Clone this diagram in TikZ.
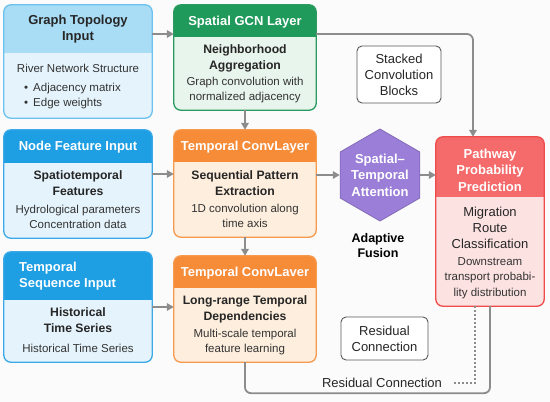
\documentclass[tikz,border=0pt]{standalone}
\usepackage{fontspec}
\setmainfont{Liberation Sans}
\usepackage{tikz}
\usetikzlibrary{arrows.meta,positioning,shapes.geometric,calc}
\definecolor{skyhead}{HTML}{A9DCF5}
\definecolor{skybody}{HTML}{E5F4FC}
\definecolor{skyline}{HTML}{6CC1EE}
\definecolor{bluehead}{HTML}{1E9FE4}
\definecolor{bluebody}{HTML}{E5F4FC}
\definecolor{blueline}{HTML}{3BA9E8}
\definecolor{greenhead}{HTML}{1F9A5B}
\definecolor{greenbody}{HTML}{E8F5EC}
\definecolor{greenline}{HTML}{2A9B60}
\definecolor{orangehead}{HTML}{F68B38}
\definecolor{orangebody}{HTML}{FDEEDD}
\definecolor{orangeline}{HTML}{F79A4E}
\definecolor{redhead}{HTML}{F56A6A}
\definecolor{redbody}{HTML}{FDE2E2}
\definecolor{redline}{HTML}{EE4B4B}
\definecolor{attnviolet}{HTML}{9B7ED7}
\definecolor{linkgray}{HTML}{8C8C8C}
\definecolor{paper}{HTML}{FBFBFB}

\tikzset{
  headtxt/.style={font=\fontsize{13}{16.5}\selectfont\bfseries, align=center, inner sep=0pt},
  subtxt/.style={font=\fontsize{12.2}{16}\selectfont\bfseries, align=center, inner sep=0pt, text=black!85},
  dettxt/.style={font=\fontsize{11.5}{15.5}\selectfont, align=center, inner sep=0pt, text=black!80},
  plaintxt/.style={font=\fontsize{13}{16}\selectfont, align=center, inner sep=0pt, text=black!85},
  notebox/.style={draw=black!65, line width=0.9pt, rounded corners=5pt, fill=white},
  arr/.style={-{Triangle[length=7pt,width=7.5pt]}, line width=1.8pt, draw=linkgray},
  link/.style={line width=1.8pt, draw=linkgray},
}

% panel: name, centre, width, height, band height, colour prefix
\newcommand{\drawpanel}[6]{%
  \node[minimum width=#3, minimum height=#4, inner sep=0pt, fill=#6body, rounded corners=7pt] (#1) at (#2) {};
  \begin{scope}
    \clip[rounded corners=7pt] (#1.south west) rectangle (#1.north east);
    \fill[#6head] (#1.north west) rectangle ([yshift=-#5]#1.north east);
  \end{scope}
  \draw[#6line, line width=1.3pt, rounded corners=7pt] (#1.south west) rectangle (#1.north east);
}

\begin{document}
\begin{tikzpicture}[x=1pt,y=-1pt]
  \fill[paper] (0,0) rectangle (550,402);

  \drawpanel{gti}{78,61.5}{148pt}{113pt}{48pt}{sky}
  \drawpanel{nfi}{78,184}{148pt}{108pt}{33pt}{blue}
  \drawpanel{tsi}{78,307}{148pt}{110pt}{48pt}{blue}
  \drawpanel{gcn}{245,57.5}{142pt}{105pt}{32pt}{green}
  \drawpanel{tc1}{245,183.5}{142pt}{107pt}{32pt}{orange}
  \drawpanel{tc2}{245,309}{142pt}{106pt}{32pt}{orange}
  \drawpanel{pp}{490,221.5}{108pt}{169pt}{60pt}{red}

  \node[headtxt, text=black!85] (gti-h) at (78,29) {Graph Topology\\Input};
  \node[dettxt] (gti-b) at (78,68) {River Network Structure};
  \node[dettxt, align=left, anchor=west] (gti-l) at (24,96) {\textbullet\hspace{5pt}Adjacency matrix\\\textbullet\hspace{5pt}Edge weights};

  \node[headtxt, text=white] (nfi-h) at (78,147) {Node Feature Input};
  \node[subtxt] (nfi-s) at (78,183) {Spatiotemporal\\Features};
  \node[dettxt] (nfi-d) at (78,217) {Hydrological parameters\\Concentration data};

  \node[headtxt, text=white, align=left, anchor=west] (tsi-h) at (19,276) {Temporal\\Sequence Input};
  \node[subtxt] (tsi-s) at (78,320) {Historical\\Time Series};
  \node[dettxt] (tsi-d) at (78,348) {Historical Time Series};

  \node[headtxt, text=white] (gcn-h) at (245,22) {Spatial GCN Layer};
  \node[subtxt] (gcn-s) at (245,58) {Neighborhood\\Aggregation};
  \node[dettxt] (gcn-d) at (245,90) {Graph convolution with\\normalized adjacency};

  \node[headtxt, text=white] (tc1-h) at (245,147) {Temporal ConvLayer};
  \node[subtxt] (tc1-s) at (245,183) {Sequential Pattern\\Extraction};
  \node[dettxt] (tc1-d) at (245,216) {1D convolution along\\time axis};

  \node[headtxt, text=white] (tc2-h) at (245,273) {Temporal ConvLaver};
  \node[subtxt] (tc2-s) at (245,309) {Long-range Temporal\\Dependencies};
  \node[dettxt] (tc2-d) at (245,342) {Multi-scale temporal\\feature learning};

  \node[headtxt, text=white] (pp-h) at (490,170) {Pathway\\Probability\\Prediction};
  \node[plaintxt] (pp-s) at (490,228) {Migration\\Route\\Classification};
  \node[dettxt] (pp-d) at (490,278) {Downstream\\transport probabi-\\lity distribution};

  \node[notebox, plaintxt, minimum width=84pt, minimum height=57pt] (stk) at (399,74.5) {Stacked\\Convolution\\Blocks};
  \node[notebox, plaintxt, minimum width=87pt, minimum height=43pt] (rbox) at (384.5,338.5) {Residual\\Connection};

  \node[regular polygon, regular polygon sides=6, shape border rotate=30, minimum size=92pt, inner sep=0pt, fill=attnviolet, draw=attnviolet!85!black, line width=0.8pt] (att) at (380,175) {};
  \node[headtxt, text=white] (att-t) at (att) {Spatial--\\Temporal\\Attention};
  \node[font=\fontsize{12.5}{15}\selectfont\bfseries, align=center, inner sep=0pt] (fus) at (378,246) {Adaptive\\Fusion};
  \node[plaintxt] (rlbl) at (382,383) {Residual Connection};

  \coordinate (gti-o) at ([yshift=27.5pt]gti.east);
  \coordinate (nfi-o) at ([yshift=10pt]nfi.east);
  \coordinate (gcn-o) at ([yshift=23.5pt]gcn.east);
  \draw[arr] (gti-o) -- (gti-o -| gcn.west);
  \draw[arr] (nfi-o) -- (nfi-o -| tc1.west);
  \draw[arr] (tsi.east) -- (tsi.east -| tc2.west);
  \draw[arr] (gcn.south) -- (tc1.north);
  \draw[arr] (tc1.south) -- (tc2.north);
  \draw[arr] (att.west -| tc1.east) -- (att.west);
  \draw[arr] (att.east) -- (att.east -| pp.west);
  \draw[arr, rounded corners=6pt] (gcn-o) -| ([xshift=-17pt]pp.north);
  \draw[link, rounded corners=6pt] (tc2.south) -- ++(0,31) -| (pp.south);
  \draw[linkgray, line width=1.6pt, dash pattern=on 1.6pt off 2.4pt] ([xshift=-15pt]pp.south) |- ([xshift=12pt]rlbl.east);
\end{tikzpicture}
\end{document}
